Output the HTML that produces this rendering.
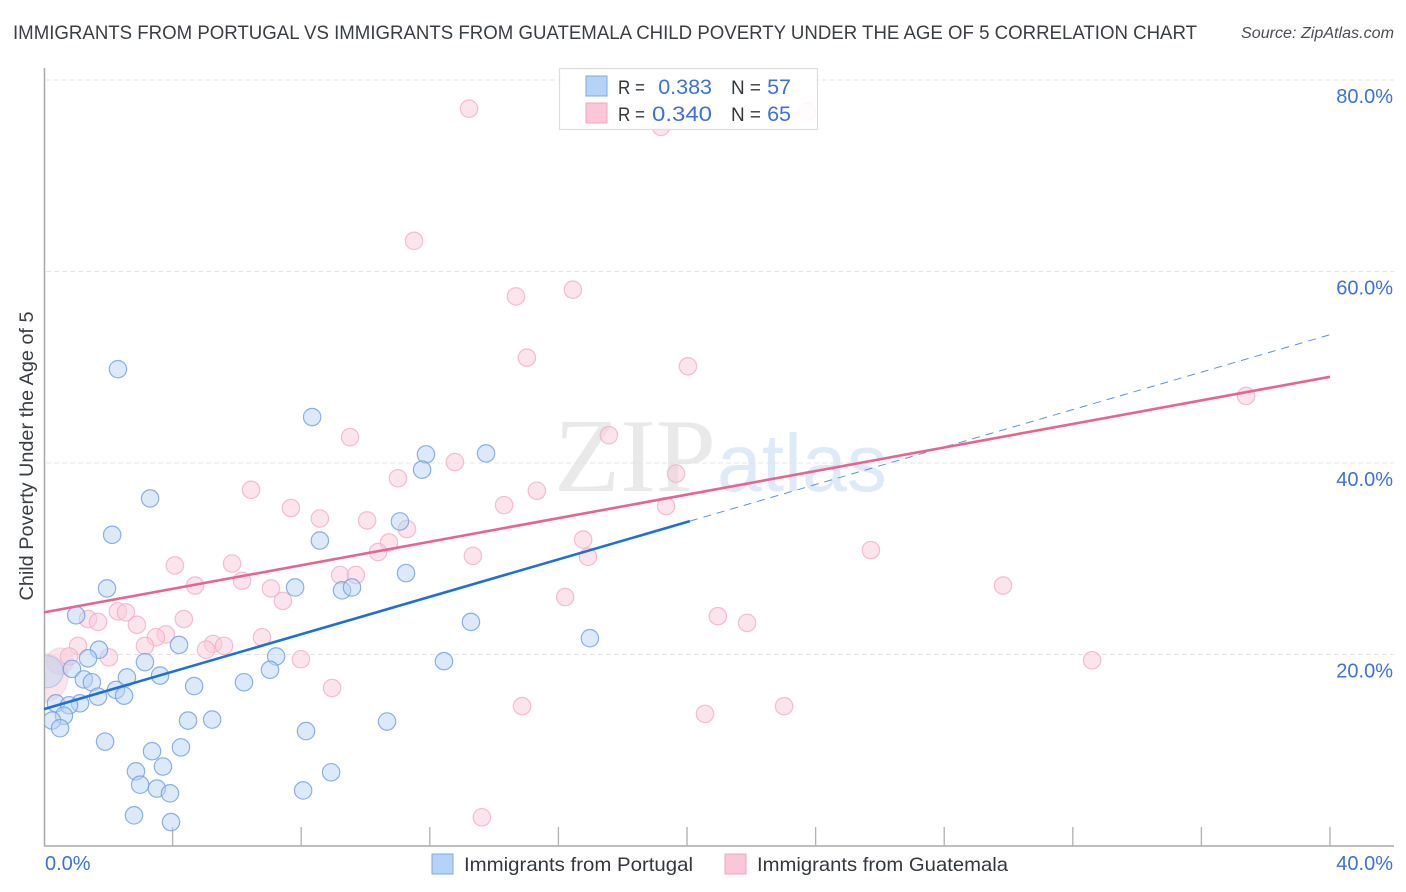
<!DOCTYPE html>
<html lang="en">
<head>
<meta charset="utf-8">
<title>Immigrants from Portugal vs Immigrants from Guatemala Child Poverty Under the Age of 5 Correlation Chart</title>
<style>
html,body{margin:0;padding:0;background:#fff;}
body{width:1406px;height:892px;overflow:hidden;}
svg{display:block;font-family:"Liberation Sans",sans-serif;}
</style>
</head>
<body>
<svg id="chart" xmlns="http://www.w3.org/2000/svg" width="1406" height="892" viewBox="0 0 1406 892">
  <defs>
    <clipPath id="plot-clip"><rect x="45" y="60" width="1350" height="786"></rect></clipPath>
  </defs>
  <text x="13" y="39" font-size="19.6" fill="#3a3e45" textLength="1184" lengthAdjust="spacingAndGlyphs">IMMIGRANTS FROM PORTUGAL VS IMMIGRANTS FROM GUATEMALA CHILD POVERTY UNDER THE AGE OF 5 CORRELATION CHART</text>
  <text x="1394" y="38" font-size="15.5" font-style="italic" fill="#4a4e56" text-anchor="end" textLength="153" lengthAdjust="spacingAndGlyphs">Source: ZipAtlas.com</text>

  <g>
    <text x="554" y="491" font-family="'Liberation Serif',serif" font-size="105" fill="#e9e9e9" textLength="162" lengthAdjust="spacingAndGlyphs">ZIP</text>
    <text x="717" y="491" font-size="82" fill="#dfeaf8" textLength="170" lengthAdjust="spacingAndGlyphs">atlas</text>
  </g>

  <g id="grid"></g>
  <g id="axes">
    <line x1="44.5" y1="68" x2="44.5" y2="846" stroke="#a8a8a8" stroke-width="1.5"></line>
    <line x1="44" y1="846" x2="1394" y2="846" stroke="#a8a8a8" stroke-width="1.5"></line>
  </g>
  <g id="xticks"></g>
  <g id="ylabels"></g>
  <g id="xlabels"></g>
  <text transform="translate(33,456) rotate(-90)" font-size="19" fill="#3a3e45" text-anchor="middle" textLength="289" lengthAdjust="spacingAndGlyphs">Child Poverty Under the Age of 5</text>

  <g id="points" clip-path="url(#plot-clip)"></g>
  <g id="trends"></g>

  <g>
    <rect x="559.5" y="68.5" width="258" height="61" fill="#ffffff" fill-opacity="0.88" stroke="#dcdcdc" stroke-width="1.2"></rect>
    <rect x="586" y="76" width="21" height="20" fill="#b5d2f7" stroke="#7fa9dd" stroke-width="1"></rect>
    <rect x="586" y="103" width="21" height="20" fill="#fbc6d8" stroke="#f0a6bd" stroke-width="1"></rect>
    <text x="618" y="94" font-size="19" fill="#33373e" textLength="27" lengthAdjust="spacingAndGlyphs">R =</text>
    <text x="712" y="94" font-size="21.5" fill="#3d72d6" text-anchor="end">0.383</text>
    <text x="731" y="94" font-size="19" fill="#33373e" textLength="30" lengthAdjust="spacingAndGlyphs">N =</text>
    <text x="791" y="94" font-size="21.5" fill="#3d72d6" text-anchor="end">57</text>
    <text x="618" y="121" font-size="19" fill="#33373e" textLength="27" lengthAdjust="spacingAndGlyphs">R =</text>
    <text x="712" y="121" font-size="21.5" fill="#3d72d6" text-anchor="end" textLength="60" lengthAdjust="spacingAndGlyphs">0.340</text>
    <text x="731" y="121" font-size="19" fill="#33373e" textLength="30" lengthAdjust="spacingAndGlyphs">N =</text>
    <text x="791" y="121" font-size="21.5" fill="#3d72d6" text-anchor="end">65</text>
  </g>

  <g>
    <rect x="432" y="854" width="21" height="20" fill="#b5d2f7" stroke="#7fa9dd" stroke-width="1"></rect>
    <text x="464" y="871" font-size="19.5" fill="#33373e" textLength="229" lengthAdjust="spacingAndGlyphs">Immigrants from Portugal</text>
    <rect x="725" y="854" width="21" height="20" fill="#fbc6d8" stroke="#f0a6bd" stroke-width="1"></rect>
    <text x="757" y="871" font-size="19.5" fill="#33373e" textLength="251" lengthAdjust="spacingAndGlyphs">Immigrants from Guatemala</text>
  </g>
</svg>
<script>
const yTickValues = [20, 40, 60, 80];
const yTickLabels = ["20.0%", "40.0%", "60.0%", "80.0%"];
const xTickValues = [4, 8, 12, 16, 20, 24, 28, 32, 36, 40];
const xEndValues = [0, 40];
const xEndLabels = ["0.0%", "40.0%"];

const portugalX = [0.1,2.30,8.34,11.88,13.75,11.76,3.30,11.07,2.12,8.58,11.26,1.96,7.81,9.27,9.58,1.00,13.28,16.98,4.20,1.71,1.37,3.14,7.22,12.44,7.03,0.87,1.24,1.49,2.58,3.61,2.24,2.49,1.68,4.67,6.22,1.12,0.37,0.78,0.62,0.25,0.50,4.48,5.23,10.67,8.15,1.90,3.36,4.26,2.86,3.70,8.93,2.99,3.51,3.92,8.06,2.80,3.95];
const portugalY = [18.2,49.8,44.8,40.9,41.0,39.3,36.3,33.9,32.5,31.9,28.5,26.9,27.0,26.7,27.0,24.1,23.4,21.7,21.0,20.5,19.6,19.2,19.8,19.3,18.4,18.5,17.4,17.1,17.6,17.8,16.3,15.7,15.6,16.7,17.1,14.9,14.9,14.7,13.6,13.1,12.3,13.1,13.2,13.0,12.0,10.9,9.9,10.3,7.8,8.3,7.7,6.4,6.0,5.5,5.8,3.2,2.5];
const portugalWeight = [3.4];

const guatemalaX = [0.00,0.50,13.22,19.19,23.73,11.51,14.68,16.45,15.02,20.03,37.39,9.52,17.57,12.78,19.66,11.01,6.44,15.33,14.31,19.35,7.68,8.58,10.05,11.29,10.73,16.77,10.39,13.34,16.92,25.72,4.07,5.85,9.21,9.70,6.16,4.70,7.06,29.83,7.43,16.21,2.30,2.55,20.96,1.37,1.68,4.35,21.87,2.89,6.78,3.79,3.48,3.14,1.06,5.26,5.60,5.04,0.78,2.02,7.99,32.60,8.96,14.87,20.56,23.02,13.62];
const guatemalaY = [17.6,19.3,77.0,75.1,76.7,63.2,57.4,58.1,51.0,50.1,47.0,42.7,42.9,40.1,38.9,38.4,37.2,37.1,35.6,35.5,35.3,34.2,34.0,33.1,31.7,32.0,30.7,30.3,30.2,30.9,29.3,29.5,28.3,28.3,27.7,27.2,26.9,27.2,25.6,26.0,24.5,24.4,24.0,23.7,23.4,23.7,23.3,23.1,21.8,22.1,21.8,20.9,20.9,21.1,20.9,20.5,19.8,19.7,19.5,19.4,16.5,14.6,13.8,14.6,3.0];
const guatemalaWeight = [7.6, 2.3];

const portugalTrendX = [0, 20.09];
const portugalTrendY = [14.3, 33.93];
const portugalForecastX = [20.09, 40];
const portugalForecastY = [33.93, 53.4];
const guatemalaTrendX = [0, 40];
const guatemalaTrendY = [24.4, 49.0];

const SVG_NS = "http://www.w3.org/2000/svg";
function xScale(v) { return 44 + v * 32.15; }
function yScale(v) { return 846 - v * 9.575; }
function make(tag, attrs, parent) {
  const el = document.createElementNS(SVG_NS, tag);
  for (const k in attrs) el.setAttribute(k, attrs[k]);
  parent.appendChild(el);
  return el;
}

const gridGroup = document.getElementById("grid");
const yLabelGroup = document.getElementById("ylabels");
yTickValues.forEach(function (v, i) {
  const line = make("line", {x1: 46, x2: 1394, y1: yScale(v), y2: yScale(v), stroke: "#e4e4e4", "stroke-width": 1, "stroke-dasharray": "5 3"}, gridGroup);
  
  
  const label = make("text", {x: 1393, y: yScale(v) + 23, "font-size": 20, fill: "#3d72d6", "text-anchor": "end"}, yLabelGroup);
  label.textContent = yTickLabels[i];
  
  
});

const xTickGroup = document.getElementById("xticks");
xTickValues.forEach(function (v) {
  const tick = make("line", {x1: xScale(v), x2: xScale(v), y1: 827, y2: 846, stroke: "#b4b4b4", "stroke-width": 1.4}, xTickGroup);
  
  
});

const xLabelGroup = document.getElementById("xlabels");
xEndValues.forEach(function (v, i) {
  const label = make("text", {x: i === 0 ? xScale(v) + 1 : 1393, y: 870, "font-size": 20, fill: "#3d72d6", "text-anchor": i === 0 ? "start" : "end"}, xLabelGroup);
  label.textContent = xEndLabels[i];
  
  
});

const pointGroup = document.getElementById("points");
function drawSeries(xs, ys, weights, fill, stroke, pointName) {
  xs.forEach(function (x, i) {
    const w = weights[i] === undefined ? 1 : weights[i];
    const dot = make("circle", {
      cx: xScale(x), cy: yScale(ys[i]), r: 8.7 * Math.sqrt(w),
      fill: fill, "fill-opacity": 0.5,
      stroke: stroke, "stroke-opacity": w > 1 ? 0.35 : 0.8, "stroke-width": 1.2
    }, pointGroup);
    
    
  });
}
drawSeries(guatemalaX, guatemalaY, guatemalaWeight, "#f9c9d9", "#f2aec4", "guatemala-point");
drawSeries(portugalX, portugalY, portugalWeight, "#b8d3f4", "#6f9fe0", "portugal-point");

const trendGroup = document.getElementById("trends");
const forecastLine = make("line", {x1: xScale(portugalForecastX[0]), y1: yScale(portugalForecastY[0]), x2: xScale(portugalForecastX[1]), y2: yScale(portugalForecastY[1]), stroke: "#5f93d8", "stroke-width": 1, "stroke-dasharray": "8 6"}, trendGroup);


const portugalLine = make("line", {x1: xScale(portugalTrendX[0]), y1: yScale(portugalTrendY[0]), x2: xScale(portugalTrendX[1]), y2: yScale(portugalTrendY[1]), stroke: "#1f6fd8", "stroke-width": 2.6}, trendGroup);


const guatemalaLine = make("line", {x1: xScale(guatemalaTrendX[0]), y1: yScale(guatemalaTrendY[0]), x2: xScale(guatemalaTrendX[1]), y2: yScale(guatemalaTrendY[1]), stroke: "#e8648f", "stroke-width": 2.6}, trendGroup);


</script>
</body>
</html>
